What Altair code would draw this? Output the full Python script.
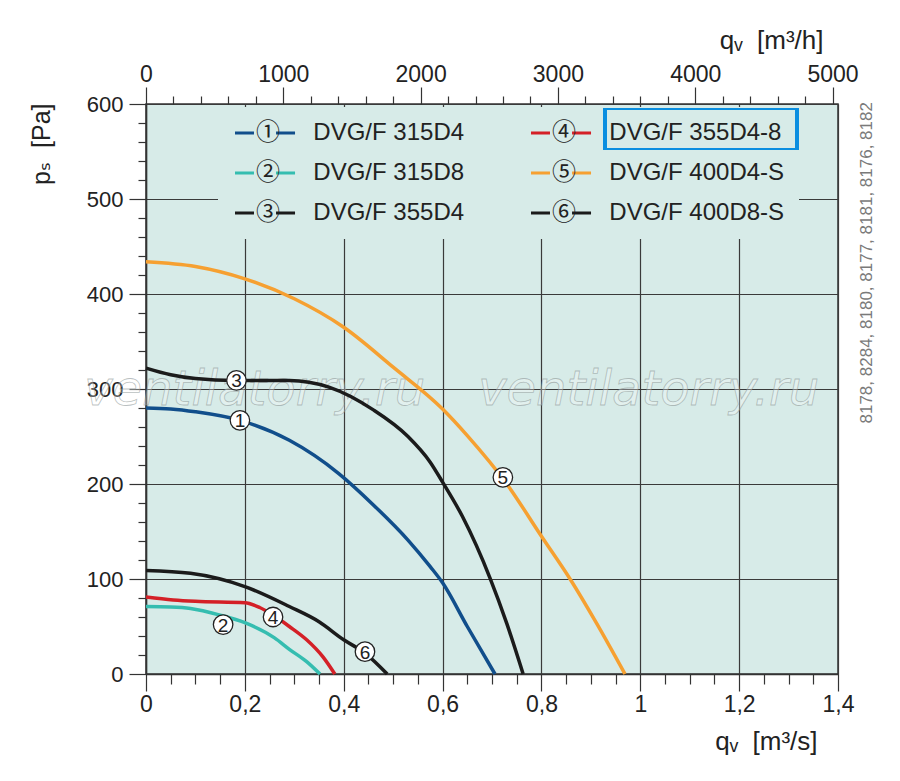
import altair as alt
import pandas as pd

# ---- series ----
names = ["DVG/F 315D4", "DVG/F 315D8", "DVG/F 355D4",
         "DVG/F 355D4-8", "DVG/F 400D4-S", "DVG/F 400D8-S"]
numbers = ["1", "2", "3", "4", "5", "6"]
circled = ["\u2460", "\u2461", "\u2462", "\u2463", "\u2464", "\u2465"]
colors = ["#114e8b", "#35bdb0", "#1b1b1b", "#d42027", "#f6a031", "#1b1b1b"]

# qv [m3/s], ps [Pa]
q1 = [0, 0.05, 0.1, 0.19, 0.29, 0.39, 0.46, 0.53, 0.575, 0.6, 0.65, 0.706]
p1 = [280, 279, 276, 267, 246, 211, 178, 141, 113, 96, 50, 0]

q2 = [0, 0.05, 0.09, 0.15, 0.2, 0.26, 0.29, 0.325, 0.352]
p2 = [71, 70.5, 69, 62, 54, 38, 26, 13, 0]

q3 = [0, 0.05, 0.1, 0.18, 0.29, 0.37, 0.46, 0.53, 0.575, 0.6, 0.64, 0.696, 0.73, 0.763]
p3 = [322, 315, 311, 309, 309, 302, 278, 250, 223, 202, 166, 101, 53, 0]

q4 = [0, 0.055, 0.1, 0.2, 0.23, 0.26, 0.29, 0.325, 0.358, 0.382]
p4 = [81, 78, 76.5, 75, 70, 61, 50, 36, 18, 0]

q5 = [0, 0.1, 0.2, 0.3, 0.4, 0.5, 0.6, 0.65, 0.73, 0.8, 0.858, 0.912, 0.969]
p5 = [434, 429, 416, 395, 365, 323, 279, 251, 200, 145, 100, 53, 0]

q6 = [0, 0.09, 0.2, 0.29, 0.35, 0.4, 0.443, 0.488]
p6 = [109, 106, 92, 71, 55, 36, 22, 0]

curves = [(q1, p1), (q2, p2), (q3, p3), (q4, p4), (q5, p5), (q6, p6)]

# circled number labels on the curves
lab_q = [0.19, 0.156, 0.183, 0.257, 0.722, 0.443]
lab_p = [267, 52, 309, 60, 207, 23.5]

highlight = "DVG/F 355D4-8"
side_note = "8178, 8284, 8180, 8177, 8181, 8176, 8182"
watermark = "ventilatorry.ru"
wm_q = [-0.125, 0.672]
wm_p = [283, 283]

# tick values
x_ticks = [round(i * 0.05, 2) for i in range(29)]
y_ticks = list(range(0, 601, 20))
top_ticks_h = list(range(0, 5001, 200))
top_ticks = [h / 3600 for h in top_ticks_h]

# ---- tables ----
rows = []
for name, (qs, ps) in zip(names, curves):
    for q, p in zip(qs, ps):
        rows.append({"series": name, "qv": q, "ps": p})
df = pd.DataFrame(rows)
labels_df = pd.DataFrame({"series": names, "num": numbers, "qv": lab_q, "ps": lab_p})
wm_df = pd.DataFrame({"qv": wm_q, "ps": wm_p, "t": [watermark] * len(wm_q)})

FONT = "Liberation Sans, DejaVu Sans"
LEG_FONT = "Liberation Sans, Noto Sans CJK JP"
BG = "#d7ebe8"
INK = "#222222"
NB = "\u00a0"

xs = alt.Scale(domain=[0, 1.4], nice=False, zero=False)
ys = alt.Scale(domain=[0, 600], nice=False)

major_x = "abs(datum.value*5 - round(datum.value*5)) < 0.000001"
major_y = "datum.value % 100 === 0"
major_t = "abs(datum.value*3.6 - round(datum.value*3.6)) < 0.0001"

common = dict(tickColor="#333333", tickWidth=1.2, labelFont=FONT, labelColor=INK,
              labelOverlap=False, titleFont=FONT, titleFontWeight="normal",
              titleColor=INK)

x_axis = alt.Axis(
    orient="bottom", values=x_ticks,
    labelExpr=f"{major_x} ? replace(format(datum.value, '~g'), '.', ',') : ''",
    tickSize={"condition": {"test": major_x, "value": 17}, "value": 10},
    grid=True, gridColor="#3a3a3a", gridWidth=1.2,
    gridOpacity={"condition": {"test": major_x, "value": 1}, "value": 0},
    domainColor="#333333", domainWidth=1.5,
    labelFontSize=23, labelPadding=2, labelFlush=False,
    title="q\u1d65" + NB + " [m\u00b3/s]", titleFontSize=26, titleAlign="right",
    titleBaseline="alphabetic", titleX=671, titleY=75, **common)

y_axis = alt.Axis(
    orient="left", values=y_ticks,
    labelExpr=f"{major_y} ? datum.label : ''",
    tickSize={"condition": {"test": major_y, "value": 17}, "value": 8},
    grid=True, gridColor="#3a3a3a", gridWidth=1.2,
    gridOpacity={"condition": {"test": major_y, "value": 1}, "value": 0},
    domainColor="#333333", domainWidth=1.5,
    labelFontSize=22, labelPadding=6,
    title="p\u209b" + NB + " [Pa]", titleFontSize=25, titleAngle=270, titleAlign="right",
    titleBaseline="alphabetic", titleX=-97, titleY=-1, **common)

top_axis = alt.Axis(
    orient="top", values=top_ticks,
    labelExpr=f"{major_t} ? format(round(datum.value*3600), 'd') : ''",
    tickSize={"condition": {"test": major_t, "value": 17}, "value": 8},
    grid=False, domain=False, labelFontSize=23, labelPadding=1, labelFlush=False,
    title="q\u1d65" + NB + " [m\u00b3/h]", titleFontSize=26, titleAlign="right",
    titleBaseline="alphabetic", titleX=677, titleY=-56, **common)

right_axis = alt.Axis(
    orient="right", ticks=False, labels=False, domain=False, grid=False,
    title=side_note, titleFont=FONT, titleFontSize=17, titleFontWeight="normal",
    titleColor="#7a7a7a", titleAngle=270, titleAlign="left", titleBaseline="middle",
    titleX=28, titleY=319)

legend_expr = ("[" + ",".join(f"'{c}'" for c in circled) + "][indexof(["
               + ",".join(f"'{n}'" for n in names) + "], datum.label)] + '"
               + NB * 5 + "' + datum.label")

main_legend = alt.Legend(
    title=None, orient="none", legendX=72, legendY=3, columns=2,
    symbolType="M-1,0H1.11M3.56,0H5.67", symbolSize=324,
    symbolStrokeWidth=3,
    labelFont=LEG_FONT, labelFontSize=24, labelColor=INK, labelOffset=0,
    labelExpr=legend_expr, labelLimit=500, clipHeight=24, rowPadding=16,
    columnPadding=63, padding=14, fillColor=BG)

# frame around the highlighted model name (a legend whose symbol is a box)
hl_legend = alt.Legend(
    title=None, orient="none", legendX=457, legendY=4,
    symbolType="M-1,-0.219H1V0.219H-1Z", symbolSize=36864,
    symbolStrokeColor="#0a8ee0", symbolFillColor="transparent",
    symbolStrokeWidth=4, symbolOpacity=1, labelExpr="''", labelOffset=0,
    clipHeight=42, padding=0, zindex=2)

color_scale = alt.Scale(domain=names, range=colors)

wm = alt.Chart(wm_df).mark_text(
    align="left", baseline="alphabetic", font="DejaVu Sans", fontStyle="italic",
    fontSize=48, fill="#ffffff", fillOpacity=0.3, stroke="#8c9696",
    strokeWidth=0.8, strokeOpacity=0.6
).encode(
    x=alt.X("qv:Q", scale=xs, axis=None),
    y=alt.Y("ps:Q", scale=ys, axis=None),
    text="t:N")

lines = alt.Chart(df).transform_calculate(
    hl=f"'{highlight}'"
).mark_line(strokeWidth=3.5, interpolate="monotone").encode(
    x=alt.X("qv:Q", scale=xs, axis=x_axis),
    y=alt.Y("ps:Q", scale=ys, axis=y_axis),
    color=alt.Color("series:N", scale=color_scale, legend=main_legend),
    opacity=alt.Opacity("hl:N", scale=alt.Scale(domain=[highlight], range=[1]),
                        legend=hl_legend))

pts = alt.Chart(labels_df).mark_point(
    shape="circle", filled=True, fill="white", stroke="#222222",
    strokeWidth=1.3, size=380, opacity=1).encode(
    x=alt.X("qv:Q", scale=xs, axis=top_axis),
    y=alt.Y("ps:Q", scale=ys, axis=right_axis))

digits = alt.Chart(labels_df).mark_text(
    font=FONT, fontSize=19, color=INK, baseline="middle", align="center", dy=1
).encode(
    x=alt.X("qv:Q", scale=xs, axis=None),
    y=alt.Y("ps:Q", scale=ys, axis=None),
    text="num:N")

chart = alt.layer(wm, lines, pts, digits).resolve_axis(
    x="independent", y="independent"
).properties(
    width=692, height=570,
    padding={"left": 138, "top": 96, "right": 54, "bottom": 99},
    autosize=alt.AutoSizeParams(type="none"),
    background="white"
).configure_view(fill=BG, stroke="#333333", strokeWidth=1.5)

chart.save("out.html", embed_options={"renderer": "svg", "actions": False})
